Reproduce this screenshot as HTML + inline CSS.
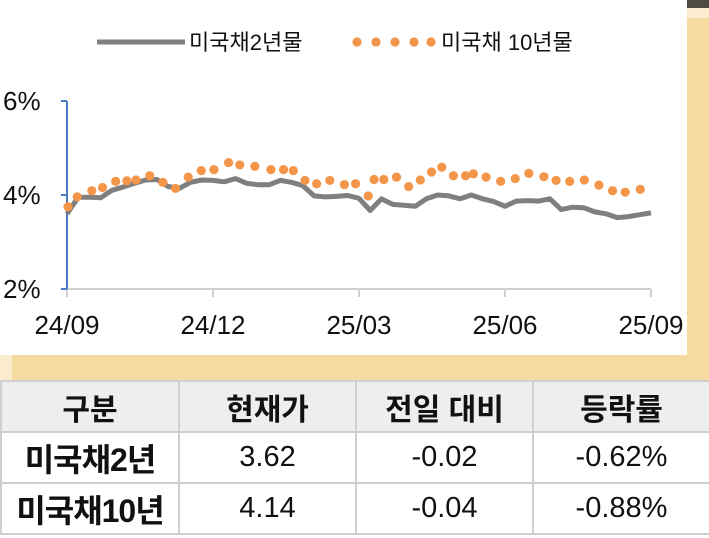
<!DOCTYPE html>
<html><head><meta charset="utf-8"><style>
body{margin:0;width:709px;height:538px;overflow:hidden;background:#fff;font-family:"Liberation Sans","Noto Sans CJK KR",sans-serif;position:relative}
#band{position:absolute;left:0;top:355px;width:709px;height:25px;background:#f6dba0}
#strip{position:absolute;left:687px;top:18px;width:22px;height:340px;background:#f6dba0}
#topbar{position:absolute;left:687px;top:0;width:22px;height:8px;background:#4e4b43}
#topbar2{position:absolute;left:687px;top:8px;width:22px;height:10px;background:#fbecd0}
#lstrip{position:absolute;left:0;top:355px;width:12px;height:25px;background:#fbeccd}
table{position:absolute;left:0;top:380px;width:709px;border-collapse:collapse;table-layout:fixed}
td{border:2px solid #cfcfcf;text-align:center;height:49px;font-size:29px;color:#111;padding:0;white-space:nowrap}
tr.h td{background:#eeeeee;font-weight:bold;font-size:30px}
td.l{font-weight:bold;font-size:32px;letter-spacing:-1px}
</style></head><body>
<div id="band"></div>
<div id="lstrip"></div>
<div id="strip"></div>
<div id="topbar"></div>
<div id="topbar2"></div>
<svg id="chart" width="687" height="355" style="position:absolute;left:0;top:0"></svg>
<table>
<colgroup><col style="width:178px"><col style="width:177px"><col style="width:177px"><col style="width:177px"></colgroup>
<tr class="h"><td>구분</td><td>현재가</td><td>전일 대비</td><td>등락률</td></tr>
<tr><td class="l">미국채2년</td><td>3.62</td><td>-0.02</td><td>-0.62%</td></tr>
<tr><td class="l">미국채10년</td><td>4.14</td><td>-0.04</td><td>-0.88%</td></tr>
</table>
<script>
const xTickLabels=["24/09","24/12","25/03","25/06","25/09"];
const xTickMonths=[0,3,6,9,12];
const yTicks=[2,4,6];
const y2Values=[3.60,3.95,3.95,3.94,4.10,4.17,4.25,4.32,4.33,4.18,4.14,4.27,4.32,4.31,4.28,4.35,4.25,4.22,4.22,4.31,4.27,4.20,3.98,3.96,3.97,3.99,3.93,3.67,3.92,3.80,3.78,3.76,3.92,4.00,3.98,3.92,4.00,3.92,3.86,3.76,3.87,3.88,3.87,3.92,3.69,3.74,3.73,3.64,3.60,3.52,3.54,3.58,3.62];
const y10Months=[0.02,0.21,0.51,0.73,1.00,1.23,1.42,1.70,1.97,2.23,2.49,2.76,3.02,3.32,3.55,3.86,4.19,4.45,4.65,4.89,5.13,5.40,5.70,5.93,6.19,6.31,6.51,6.77,7.02,7.26,7.49,7.70,7.94,8.19,8.35,8.61,8.91,9.21,9.49,9.80,10.05,10.33,10.63,10.93,11.21,11.47,11.78];
const y10Values=[3.75,3.96,4.09,4.16,4.29,4.30,4.32,4.41,4.27,4.14,4.38,4.52,4.54,4.69,4.64,4.61,4.54,4.54,4.52,4.31,4.24,4.31,4.22,4.24,3.98,4.33,4.33,4.38,4.18,4.32,4.49,4.59,4.41,4.41,4.45,4.38,4.29,4.35,4.46,4.39,4.31,4.29,4.32,4.21,4.09,4.06,4.12];
const NS="http://www.w3.org/2000/svg";
const svg=document.getElementById("chart");
const X0=67,X1=651,YT=101,YB=289;
const xm=m=>X0+(X1-X0)*m/12;
const ys=v=>YB-(v-2)/4*(YB-YT);
function mk(t,a){const e=document.createElementNS(NS,t);for(const k in a)e.setAttribute(k,a[k]);svg.appendChild(e);return e;}
let e;
e=mk("line",{x1:X0,y1:YB,x2:X1,y2:YB,stroke:"#d0d0d0","stroke-width":2});


xTickMonths.forEach((m,i)=>{
 const t=mk("line",{x1:xm(m),y1:YB,x2:xm(m),y2:YB+8,stroke:"#d0d0d0","stroke-width":2});
 
 
 const l=mk("text",{x:xm(m),y:334,"text-anchor":"middle","font-size":"26","fill":"#111"});
 l.textContent=xTickLabels[i];
 
 
});
e=mk("line",{x1:X0,y1:YT,x2:X0,y2:YB,stroke:"#4a7cc2","stroke-width":2});


yTicks.forEach(v=>{
 const t=mk("line",{x1:X0-6,y1:ys(v),x2:X0,y2:ys(v),stroke:"#4a7cc2","stroke-width":2});
 
 
 const l=mk("text",{x:3,y:ys(v)+9,"font-size":"26","fill":"#111"});
 l.textContent=v+"%";
 
 
});
const pts=y2Values.map((v,i)=>xm(i*12/(y2Values.length-1)).toFixed(1)+","+ys(v).toFixed(1)).join(" ");
e=mk("polyline",{points:pts,fill:"none",stroke:"#7f7f7f","stroke-width":5,"stroke-linejoin":"round"});


y10Values.forEach((v,i)=>{
 const c=mk("circle",{cx:xm(y10Months[i]),cy:ys(v),r:4.6,fill:"#f4964a"});
 
 
});
e=mk("line",{x1:97,y1:42,x2:185,y2:42,stroke:"#7f7f7f","stroke-width":5});


e=mk("text",{x:189,y:50,"font-size":"22","fill":"#111"});e.textContent="미국채2년물";


[357,376,395,414,431].forEach(x=>{const c=mk("circle",{cx:x,cy:42,r:4.6,fill:"#f4964a"});
 
 });
e=mk("text",{x:441,y:50,"font-size":"22","fill":"#111"});e.textContent="미국채 10년물";


</script>
</body></html>
